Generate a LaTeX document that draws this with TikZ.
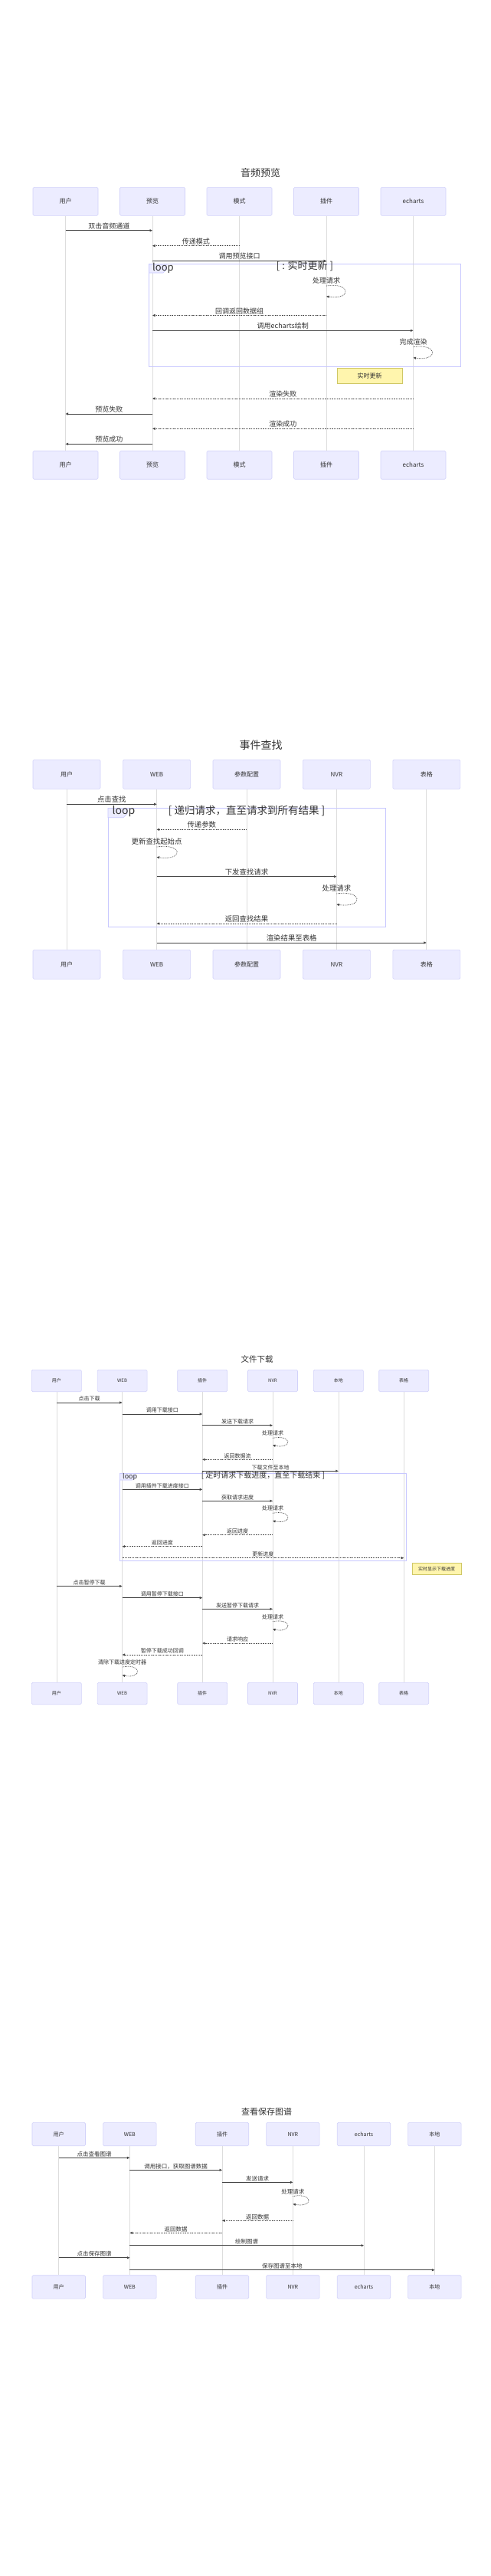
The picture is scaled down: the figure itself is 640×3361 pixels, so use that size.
\documentclass[tikz,border=0pt]{standalone}
\usepackage{fontspec}
\setmainfont{Noto Sans CJK SC}
\usetikzlibrary{arrows.meta,calc}
\definecolor{actorf}{HTML}{ECECFF}
\definecolor{actorb}{HTML}{D2D2FA}
\definecolor{lifec}{HTML}{DDDDDD}
\definecolor{msgc}{HTML}{444444}
\definecolor{txt}{HTML}{333333}
\definecolor{loopc}{HTML}{C8C8FF}
\definecolor{notef}{HTML}{FFF5AD}
\definecolor{noteb}{HTML}{CFC765}
\newcommand\fs[1]{\fontsize{#1}{#1}\selectfont}
\tikzset{
  actor/.style={draw=actorb, fill=actorf, rounded corners=1.5pt, line width=0.6pt, text=txt, inner sep=0pt},
  life/.style={draw=lifec, line width=0.8pt},
  sm/.style={draw=msgc, line width=0.8pt, -{Triangle[length=3.5pt,width=3pt]}},
  dm/.style={draw=msgc, line width=0.7pt, dash pattern=on 0.8pt off 1pt, -{Triangle[length=3.5pt,width=3pt]}},
  msglbl/.style={above, inner sep=1.2pt, text=txt},
  loopbox/.style={draw=loopc, line width=0.8pt},
  looptab/.style={draw=loopc, fill=actorf, line width=0.6pt},
  looplbl/.style={anchor=west, inner sep=0pt, text=txt},
  condlbl/.style={inner sep=0pt, text=txt},
  note/.style={draw=noteb, fill=notef, line width=0.6pt, text=txt, inner sep=0pt},
  ttl/.style={text=txt, inner sep=0pt}
}
% name, x, y, w, h, fontsize, text
\newcommand\sqactor[7]{\node[actor, minimum width=#4pt, minimum height=#5pt, font=\fs{#6}] (#1) at (#2,#3) {#7};}
% style, from, to, y, fontsize, text
\newcommand\sqmsg[6]{\draw[#1] (#2 |- 0,#4) -- node[msglbl, font=\fs{#5}] {#6} (#3 |- 0,#4);}
% node, y1, y2, control dx, fontsize, text
\newcommand\sqself[6]{%
  \draw[dm] (#1 |- 0,#2) .. controls ($(#1 |- 0,#2)+(#4,-5)$) and ($(#1 |- 0,#3)+(#4,5)$) .. (#1 |- 0,#3);
  \node[msglbl, font=\fs{#5}] at ($(#1 |- 0,#2)+(0,-1.5)$) {#6};}
\begin{document}
\begin{tikzpicture}[x=1pt,y=-1pt]
\useasboundingbox (0,0) rectangle (640,3361);
\fill[white] (0,0) rectangle (640,3361);

%%%%%%%%%%%%%%%% Diagram 1
\node[ttl, font=\fs{13}] (T1) at (340,226) {音频预览};
\foreach \n/\x/\t in {u/85.5/用户, p/199/预览, m/312.5/模式, c/426/插件, e/539.5/echarts}{
  \sqactor{A1\n}{\x}{262.8}{85}{37}{8}{\t}
  \sqactor{B1\n}{\x}{606.7}{85}{37}{8}{\t}
  \draw[life] (A1\n.south) -- (B1\n.north);
}
\draw[loopbox] (194.5,344.7) rectangle (601,478.3);
\draw[looptab] (194.5,344.7) -- (217,344.7) -- (217,352) -- (213,356) -- (194.5,356) -- cycle;
\node[looplbl, font=\fs{13}] (L1) at (199,350) {loop};
\node[condlbl, font=\fs{13}] (C1) at (398,347) {[ : 实时更新 ]};
\sqmsg{sm}{A1u}{A1p}{300.7}{9}{双击音频通道}
\sqmsg{dm}{A1m}{A1p}{320.7}{9}{传递模式}
\sqmsg{sm}{A1p}{A1c}{340.3}{9}{调用预览接口}
\sqself{A1c}{373}{386.7}{33}{9}{处理请求}
\sqmsg{dm}{A1c}{A1p}{411.5}{9}{回调返回数据组}
\sqmsg{sm}{A1p}{A1e}{431.3}{9}{调用echarts绘制}
\sqself{A1e}{452.7}{466.7}{33}{9}{完成渲染}
\node[note, minimum width=85pt, minimum height=20.7pt, font=\fs{8}] (N1) at (482.5,490.3) {实时更新};
\sqmsg{dm}{A1e}{A1p}{520}{9}{渲染失败}
\sqmsg{sm}{A1p}{A1u}{540}{9}{预览失败}
\sqmsg{dm}{A1e}{A1p}{559.3}{9}{渲染成功}
\sqmsg{sm}{A1p}{A1u}{579.3}{9}{预览成功}

%%%%%%%%%%%%%%%% Diagram 2
\node[ttl, font=\fs{14}] (T2) at (340.5,971.7) {事件查找};
\foreach \n/\x/\t in {u/87/用户, w/204.6/WEB, p/322/参数配置, n/439.4/NVR, t/556.8/表格}{
  \sqactor{A2\n}{\x}{1010.3}{88}{38}{8}{\t}
  \sqactor{B2\n}{\x}{1258.3}{88}{38}{8}{\t}
  \draw[life] (A2\n.south) -- (B2\n.north);
}
\draw[loopbox] (141,1054.3) rectangle (503,1209.3);
\draw[looptab] (141,1054.3) -- (166,1054.3) -- (166,1062) -- (161,1066.7) -- (141,1066.7) -- cycle;
\node[looplbl, font=\fs{14}] (L2) at (146.5,1059) {loop};
\node[condlbl, font=\fs{13.5}] (C2) at (322,1058.3) {[ 递归请求，直至请求到所有结果 ]};
\sqmsg{sm}{A2u}{A2w}{1049.3}{9.4}{点击查找}
\sqmsg{dm}{A2p}{A2w}{1082.3}{9.4}{传递参数}
\sqself{A2w}{1105}{1118.3}{35}{9.4}{更新查找起始点}
\sqmsg{sm}{A2w}{A2n}{1143.7}{9.4}{下发查找请求}
\sqself{A2n}{1166}{1180}{35}{9.4}{处理请求}
\sqmsg{dm}{A2n}{A2w}{1205}{9.4}{返回查找结果}
\sqmsg{sm}{A2w}{A2t}{1230}{9.4}{渲染结果至表格}

%%%%%%%%%%%%%%%% Diagram 3
\node[ttl, font=\fs{10.5}] (T3) at (335.6,1773.3) {文件下载};
\foreach \n/\x/\t in {u/73.8/用户, w/159.6/WEB, p/264.2/插件, n/356/NVR, l/441.8/本地, t/527.2/表格}{
  \sqactor{A3\n}{\x}{1801.5}{65}{28.4}{6}{\t}
  \sqactor{B3\n}{\x}{2209.5}{65}{28.4}{6}{\t}
  \draw[life, line width=0.6pt] (A3\n.south) -- (B3\n.north);
}
\draw[loopbox] (156.3,1922.7) rectangle (530.5,2036);
\draw[looptab] (156.3,1922.7) -- (176,1922.7) -- (176,1928) -- (172.5,1931) -- (156.3,1931) -- cycle;
\node[looplbl, font=\fs{9}] (L3) at (160,1926.5) {loop};
\node[condlbl, font=\fs{10}] (C3) at (343.4,1925) {[ 定时请求下载进度，直至下载结束 ]};
\sqmsg{sm, line width=0.6pt}{A3u}{A3w}{1830}{7}{点击下载}
\sqmsg{sm, line width=0.6pt}{A3w}{A3p}{1845}{7}{调用下载接口}
\sqmsg{sm, line width=0.6pt}{A3p}{A3n}{1859.7}{7}{发送下载请求}
\sqself{A3n}{1876.3}{1885.7}{26}{7}{处理请求}
\sqmsg{dm, line width=0.6pt}{A3n}{A3p}{1904.3}{7}{返回数据流}
\sqmsg{sm, line width=0.6pt}{A3p}{A3l}{1919.3}{7}{下载文件至本地}
\sqmsg{sm, line width=0.6pt}{A3w}{A3p}{1943.3}{7}{调用插件下载进度接口}
\sqmsg{sm, line width=0.6pt}{A3p}{A3n}{1958.3}{7}{获取请求进度}
\sqself{A3n}{1974.3}{1984.3}{26}{7}{处理请求}
\sqmsg{dm, line width=0.6pt}{A3n}{A3p}{2002.7}{7}{返回进度}
\sqmsg{dm, line width=0.6pt}{A3p}{A3w}{2017.7}{7}{返回进度}
\sqmsg{dm, line width=0.6pt}{A3w}{A3t}{2032.7}{7}{更新进度}
\node[note, minimum width=64pt, minimum height=15.4pt, font=\fs{6}] (N3) at (570,2047) {实时显示下载进度};
\sqmsg{sm, line width=0.6pt}{A3u}{A3w}{2069.5}{7}{点击暂停下载}
\sqmsg{sm, line width=0.6pt}{A3w}{A3p}{2084.7}{7}{调用暂停下载接口}
\sqmsg{sm, line width=0.6pt}{A3p}{A3n}{2099.3}{7}{发送暂停下载请求}
\sqself{A3n}{2115.7}{2125.7}{26}{7}{处理请求}
\sqmsg{dm, line width=0.6pt}{A3n}{A3p}{2144}{7}{请求响应}
\sqmsg{dm, line width=0.6pt}{A3p}{A3w}{2159}{7}{暂停下载成功回调}
\sqself{A3w}{2175}{2185.7}{26}{7}{清除下载进度定时器}

%%%%%%%%%%%%%%%% Diagram 4
\node[ttl, font=\fs{11}] (T4) at (348,2755) {查看保存图谱};
\foreach \n/\x/\t in {u/76.7/用户, w/169.4/WEB, p/290/插件, n/382.4/NVR, e/475/echarts, l/567.4/本地}{
  \sqactor{A4\n}{\x}{2784.5}{69.5}{30.4}{7}{\t}
  \sqactor{B4\n}{\x}{2983.9}{69.5}{30.4}{7}{\t}
  \draw[life, line width=0.6pt] (A4\n.south) -- (B4\n.north);
}
\sqmsg{sm, line width=0.6pt}{A4u}{A4w}{2815.3}{7.5}{点击查看图谱}
\sqmsg{sm, line width=0.6pt}{A4w}{A4p}{2831.3}{7.5}{调用接口，获取图谱数据}
\sqmsg{sm, line width=0.6pt}{A4p}{A4n}{2847.3}{7.5}{发送请求}
\sqself{A4n}{2865.5}{2875.7}{27}{7.5}{处理请求}
\sqmsg{dm, line width=0.6pt}{A4n}{A4p}{2897.3}{7.5}{返回数据}
\sqmsg{dm, line width=0.6pt}{A4p}{A4w}{2913.3}{7.5}{返回数据}
\sqmsg{sm, line width=0.6pt}{A4w}{A4e}{2929.7}{7.5}{绘制图谱}
\sqmsg{sm, line width=0.6pt}{A4u}{A4w}{2945.7}{7.5}{点击保存图谱}
\sqmsg{sm, line width=0.6pt}{A4w}{A4l}{2961.7}{7.5}{保存图谱至本地}
\end{tikzpicture}
\end{document}
